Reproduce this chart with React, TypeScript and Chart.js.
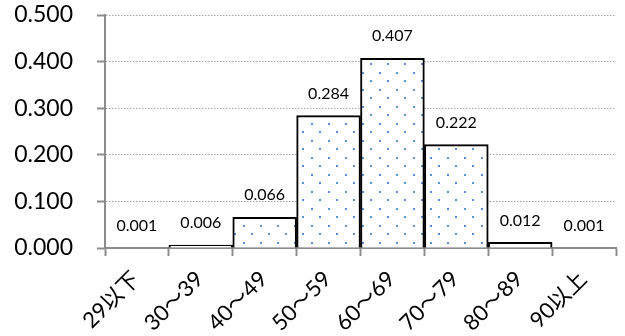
import React, { useEffect, useRef } from "react";
import { Chart, registerables } from "chart.js";

Chart.register(...registerables);

const categories = ["29以下", "30～39", "40～49", "50～59", "60～69", "70～79", "80～89", "90以上"];
const values = [0.001, 0.006, 0.066, 0.284, 0.407, 0.222, 0.012, 0.001];
const yTicks = [0, 0.1, 0.2, 0.3, 0.4, 0.5];

const FONT = "Lato, 'Noto Sans CJK JP', sans-serif";

function makePattern(ctx: CanvasRenderingContext2D) {
  const c = document.createElement("canvas");
  c.width = 17;
  c.height = 17;
  const g = c.getContext("2d")!;
  g.fillStyle = "#ffffff";
  g.fillRect(0, 0, 17, 17);
  g.fillStyle = "#5b8fd6";
  g.fillRect(5, 4, 2, 2);
  g.fillRect(13, 12, 2, 2);
  return ctx.createPattern(c, "repeat");
}

const valueLabels = {
  id: "valueLabels",
  afterDatasetsDraw(chart: any) {
    const ctx = chart.ctx;
    const meta = chart.getDatasetMeta(0);
    ctx.save();
    ctx.font = `16px ${FONT}`;
    ctx.fillStyle = "#000";
    ctx.textAlign = "center";
    ctx.textBaseline = "middle";
    meta.data.forEach((el: any, i: number) => {
      const { x, y } = el.getProps(["x", "y"], true);
      ctx.fillText(values[i].toFixed(3), x, y - 22);
    });
    ctx.restore();
  },
};

export default function App() {
  const ref = useRef<HTMLCanvasElement | null>(null);
  useEffect(() => {
    const canvas = ref.current!;
    const ctx = canvas.getContext("2d")!;
    const pattern = makePattern(ctx);
    const chart = new Chart(canvas, {
      type: "bar",
      data: {
        labels: categories,
        datasets: [
          {
            data: values,
            backgroundColor: pattern as any,
            borderColor: "#000",
            borderWidth: 2,
            barPercentage: 1,
            categoryPercentage: 1,
          },
        ],
      },
      options: {
        animation: false,
        responsive: true,
        maintainAspectRatio: false,
        devicePixelRatio: 1,
        layout: { padding: { top: 15, right: 9, left: 0, bottom: 0 } },
        plugins: { legend: { display: false }, tooltip: { enabled: false } },
        font: { family: FONT },
        scales: {
          x: {
            grid: {
              display: true,
              drawOnChartArea: false,
              drawTicks: true,
              tickLength: 8,
              color: "#8c8c8c",
              tickColor: "#8c8c8c",
              tickWidth: 2,
              offset: true,
            },
            border: { display: true, color: "#8c8c8c", width: 2 },
            ticks: {
              font: { family: FONT, size: 22 },
              color: "#000",
              maxRotation: 45,
              minRotation: 45,
              autoSkip: false,
              padding: 10,
              labelOffset: -1,
            },
            afterFit: (s: any) => {
              s.height = 88;
              s.paddingLeft = 0;
              s.paddingRight = 0;
            },
          },
          y: {
            min: 0,
            max: 0.5,
            afterBuildTicks: (s: any) => {
              s.ticks = yTicks.map((v) => ({ value: v }));
            },
            grid: {
              color: "#a6a6a6",
              lineWidth: 1,
              tickLength: 8,
              tickColor: "#8c8c8c",
              tickWidth: 2,
            },
            border: { display: true, color: "#8c8c8c", width: 2, dash: [1.5, 1.5] },
            ticks: {
              font: { family: FONT, size: 23 },
              color: "#000",
              padding: 24,
              callback: (v: any) => Number(v).toFixed(3),
            },
            afterFit: (s: any) => {
              s.width = 105;
              s.paddingTop = 0;
              s.paddingBottom = 0;
            },
          },
        },
      } as any,
      plugins: [valueLabels],
    });
    return () => chart.destroy();
  }, []);
  return (
    <div style={{ position: "absolute", left: 0, top: 0, width: 625, height: 336, background: "#fff" }}>
      <canvas ref={ref} />
    </div>
  );
}
